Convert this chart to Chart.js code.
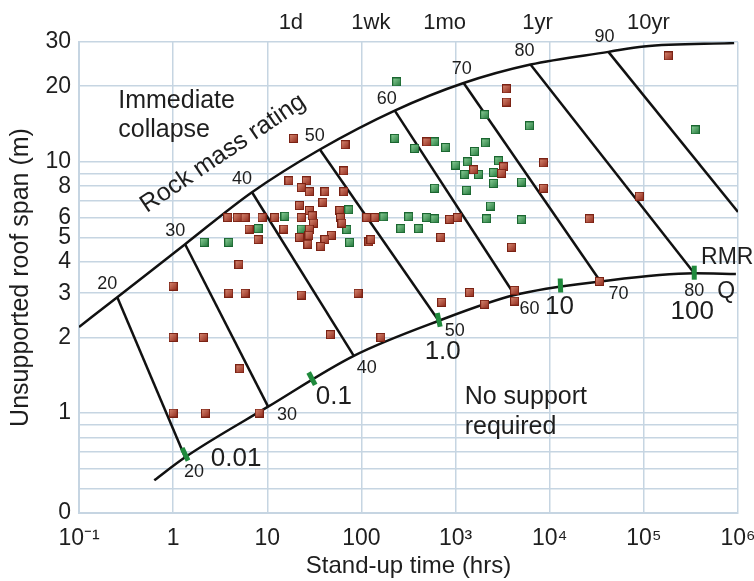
<!DOCTYPE html>
<html>
<head>
<meta charset="utf-8">
<script src="https://cdn.jsdelivr.net/npm/chart.js@4.4.1/dist/chart.umd.min.js"></script>
<style>
  html, body { margin: 0; padding: 0; background: #fff; }
  #wrap { width: 754px; height: 581px; }
</style>
</head>
<body>
<div id="wrap"><canvas id="chart" width="754" height="581"></canvas></div>
<script>
// Axis ticks
const xTickValues = [0.1, 1, 10, 100, 1e3, 1e4, 1e5, 1e6]
const xTickLabels = ['10\u207B\u00B9', '1', '10', '100', '10\u00B3', '10\u2074', '10\u2075', '10\u2076']
const yTickValues = [0.4, 0.5, 0.6, 0.7, 0.8, 0.9, 1, 2, 3, 4, 5, 6, 7, 8, 9, 10, 20, 30]
const yTickLabels = ['0', '', '', '', '', '', '1', '2', '3', '4', '5', '6', '', '8', '', '10', '20', '30']
const topTickHours = [17.8, 126, 766, 7430, 112000]
const topTickLabels = ['1d', '1wk', '1mo', '1yr', '10yr']

// Case histories (stand-up time in hrs, span in m)
const redHours = [19, 67, 65, 17, 26, 23, 28, 41, 65, 39, 22, 28, 59, 3.8, 4.8, 5.8, 8.8, 12, 23, 30,
  31, 60, 114, 139, 6.4, 15, 28, 62, 8, 22, 27.7, 48, 41, 120, 27, 37, 5, 1, 3.9, 5.8,
  23, 92, 1, 2.1, 5.1, 47, 161, 1, 2.2, 8.2, 126, 695, 865, 1050, 494, 3480, 3480, 1556, 3235, 3080,
  8600, 8600, 3935, 1410, 713, 2036, 4235, 4235, 26400, 33700, 89500, 182000]
const redSpan = [12.4, 11.7, 9.2, 8.4, 8.4, 7.9, 7.6, 7.6, 7.6, 6.9, 6.7, 6.4, 6.4, 6, 6, 6, 6, 6, 6, 6.1,
  5.7, 6, 6, 6, 5.4, 5.4, 5.4, 5.7, 4.9, 5, 5.1, 5.1, 4.9, 4.8, 4.7, 4.6, 3.9, 3.2, 3, 3,
  2.95, 3, 2, 2, 1.5, 2.05, 2, 1, 1, 1, 4.9, 5, 5.9, 6, 12, 19.5, 17.3, 9.3, 9.56, 9.0,
  9.9, 7.85, 4.57, 3.02, 2.76, 2.71, 3.08, 2.79, 5.93, 3.34, 7.3, 26.4]
const greenHours = [2.13, 3.9, 8, 15.4, 23, 70, 73.5, 75, 173, 318, 494, 600, 262, 406, 2138, 5025, 2355,
  237, 226, 368, 600, 786, 2036, 6110, 2085, 1593, 1344, 1003, 2865, 1250, 1758, 2535, 2535, 5025,
  600, 1312, 352000]
const greenSpan = [4.78, 4.78, 5.42, 6.07, 5.4, 5.37, 6.44, 4.78, 6.04, 6.04, 6, 5.93, 5.42, 5.42, 5.93, 5.88, 6.67,
  20.8, 12.4, 11.3, 12.0, 11.4, 15.4, 13.9, 11.9, 11.0, 10, 9.7, 10.1, 8.9, 8.9, 9.06, 8.2, 8.3,
  7.85, 7.7, 13.4]

// Boundary curves
const collapseHours = [0.1, 0.255, 1.34, 6.88, 36.2, 226, 1219, 6250, 42000, 100000, 910000]
const collapseSpan = [2.2, 2.89, 4.70, 7.57, 11.2, 16.0, 20.6, 24.4, 27.4, 28.8, 29.7]
const noSupportHours = [0.63, 1.34, 10.2, 83, 662, 4240, 34600, 343000, 950000]
const noSupportSpan = [0.54, 0.667, 1.06, 1.69, 2.33, 2.95, 3.34, 3.6, 3.58]

// Rock mass rating lines
const rmrValues = [20, 30, 40, 50, 60, 70, 80, 90]
const rmrTopHours = [0.255, 1.34, 6.88, 36.2, 226, 1219, 6250, 42000]
const rmrTopSpan = [2.89, 4.70, 7.57, 11.2, 16.0, 20.6, 24.4, 27.4]
const rmrBaseHours = [1.34, 10.2, 83, 662, 4240, 34600, 343000, 1e6]
const rmrBaseSpan = [0.667, 1.06, 1.69, 2.33, 2.95, 3.34, 3.6, 6.32]
const rmrTopLabelHours = [0.2, 1.05, 5.39, 32, 186, 1161, 5400, 38100]
const rmrTopLabelSpan = [3.25, 5.28, 8.58, 12.7, 17.8, 23.5, 27.7, 31.5]
const rmrBaseLabelHours = [1.67, 16.2, 114, 978, 6110, 53700, 343000]
const rmrBaseLabelSpan = [0.583, 0.98, 1.51, 2.13, 2.59, 2.97, 3.05]

// Q scale marks
const qLabels = ['0.01', '0.1', '1.0', '10', '100']
const qHours = [1.34, 29.8, 662, 13000, 343000]
const qSpan = [0.685, 1.37, 2.35, 3.22, 3.62]
const qLabelHours = [4.66, 51, 730, 12700, 327000]
const qLabelSpan = [0.655, 1.155, 1.75, 2.64, 2.53]

const gridColor = '#c6d5e2'
const textColor = '#1e1e1e'
Chart.defaults.font.family = '"Liberation Sans", Arial, Helvetica, sans-serif'
Chart.defaults.color = textColor

const toPoints = (xs, ys) => xs.map((v, i) => ({ x: v, y: ys[i] }))

function makeSquare(light, dark, edge) {
  const c = document.createElement('canvas')
  c.width = 9
  c.height = 9
  const g = c.getContext('2d')
  const grad = g.createLinearGradient(0, 0, 9, 9)
  grad.addColorStop(0, light)
  grad.addColorStop(1, dark)
  g.fillStyle = grad
  g.fillRect(0, 0, 9, 9)
  g.strokeStyle = edge
  g.lineWidth = 1
  g.strokeRect(0.5, 0.5, 8, 8)
  return c
}
const redSquare = makeSquare('#dc8f78', '#8c2416', '#7a2214')
const greenSquare = makeSquare('#93d69f', '#1d7336', '#1a6630')

const curveStyle = {
  showLine: true,
  pointRadius: 0,
  borderColor: '#111',
  borderWidth: 2.5,
  fill: false,
  order: 3
}

const rmrDatasets = rmrValues.map((v, i) => ({
  ...curveStyle,
  label: 'RMR ' + v,
  data: [{ x: rmrTopHours[i], y: rmrTopSpan[i] }, { x: rmrBaseHours[i], y: rmrBaseSpan[i] }]
}))

// keep the plot box fixed: no extra room for the edge tick labels
const noEdgePadding = (height) => (scale) => {
  scale.height = height
  scale.paddingLeft = 0
  scale.paddingRight = 0
}

// Text annotations drawn through the scales
const annotations = {
  id: 'annotations',
  afterDatasetsDraw(chart) {
    const { ctx, scales: { x, y } } = chart
    const put = (text, h, m, size, align = 'center', rot = 0) => {
      ctx.save()
      ctx.translate(x.getPixelForValue(h), y.getPixelForValue(m))
      ctx.rotate(rot * Math.PI / 180)
      ctx.font = size + 'px "Liberation Sans", Arial, sans-serif'
      ctx.fillStyle = textColor
      ctx.textAlign = align
      ctx.textBaseline = 'middle'
      ctx.fillText(text, 0, 0)
      ctx.restore()
    }
    rmrValues.forEach((v, i) => put(String(v), rmrTopLabelHours[i], rmrTopLabelSpan[i], 18))
    rmrBaseLabelHours.forEach((h, i) => put(String(rmrValues[i]), h, rmrBaseLabelSpan[i], 18))
    qLabels.forEach((t, i) => put(t, qLabelHours[i], qLabelSpan[i], 26))
    put('RMR', 769000, 4.14, 23)
    put('Q', 750000, 3.05, 23)
    put('Immediate', 0.261, 17.5, 25, 'left')
    put('collapse', 0.261, 13.4, 25, 'left')
    put('No support', 1250, 1.155, 25, 'left')
    put('required', 1250, 0.882, 25, 'left')
    put('Rock mass rating', 3.39, 10.8, 25, 'center', -34)
  }
}

new Chart(document.getElementById('chart'), {
  type: 'scatter',
  data: {
    datasets: [{
      label: 'Red cases',
      data: toPoints(redHours, redSpan),
      pointStyle: redSquare,
      order: 0
    }, {
      label: 'Green cases',
      data: toPoints(greenHours, greenSpan),
      pointStyle: greenSquare,
      order: 0
    }, {
      label: 'Q',
      data: toPoints(qHours, qSpan),
      pointStyle: 'line',
      pointRadius: 7,
      pointBorderWidth: 5,
      pointBorderColor: '#1f8a3c',
      pointRotation: [65, 62, 78, 88, 90],
      order: 1
    }, {
      ...curveStyle,
      label: 'Immediate collapse',
      data: toPoints(collapseHours, collapseSpan),
      cubicInterpolationMode: 'monotone'
    }, {
      ...curveStyle,
      label: 'No support required',
      data: toPoints(noSupportHours, noSupportSpan),
      cubicInterpolationMode: 'monotone'
    }, ...rmrDatasets]
  },
  options: {
    responsive: false,
    animation: false,
    layout: { padding: { left: 0, right: 16, top: 0, bottom: 0 } },
    plugins: {
      legend: { display: false },
      tooltip: { enabled: false }
    },
    scales: {
      x: {
        type: 'logarithmic',
        position: 'bottom',
        min: 0.1,
        max: 1e6,
        afterBuildTicks: (scale) => { scale.ticks = xTickValues.map(v => ({ value: v })) },
        afterFit: noEdgePadding(68),
        ticks: {
          autoSkip: false,
          maxRotation: 0,
          padding: 12,
          font: { size: 23 },
          callback: (v, i) => xTickLabels[i]
        },
        grid: { color: gridColor, lineWidth: 1.5, drawTicks: false },
        border: { color: gridColor, width: 2 },
        title: {
          display: true,
          text: 'Stand-up time (hrs)',
          font: { size: 24 },
          padding: { top: 0, bottom: 0 }
        }
      },
      top: {
        type: 'logarithmic',
        position: 'top',
        min: 0.1,
        max: 1e6,
        afterBuildTicks: (scale) => { scale.ticks = topTickHours.map(v => ({ value: v })) },
        afterFit: noEdgePadding(42),
        ticks: {
          autoSkip: false,
          maxRotation: 0,
          padding: 6,
          font: { size: 22 },
          callback: (v, i) => topTickLabels[i]
        },
        grid: { display: false, drawTicks: false },
        border: { display: false }
      },
      y: {
        type: 'logarithmic',
        min: 0.4,
        max: 30,
        afterBuildTicks: (scale) => { scale.ticks = yTickValues.map(v => ({ value: v })) },
        afterFit: (scale) => {
          scale.width = 79
          scale.paddingTop = 0
          scale.paddingBottom = 0
        },
        ticks: {
          autoSkip: false,
          padding: 8,
          font: { size: 23 },
          callback: (v, i) => yTickLabels[i]
        },
        grid: { color: gridColor, lineWidth: 1.5, drawTicks: false },
        border: { color: gridColor, width: 2 },
        title: {
          display: true,
          text: 'Unsupported roof span (m)',
          font: { size: 25 },
          padding: { top: 6, bottom: 0 }
        }
      }
    }
  },
  plugins: [annotations]
})
</script>
</body>
</html>
